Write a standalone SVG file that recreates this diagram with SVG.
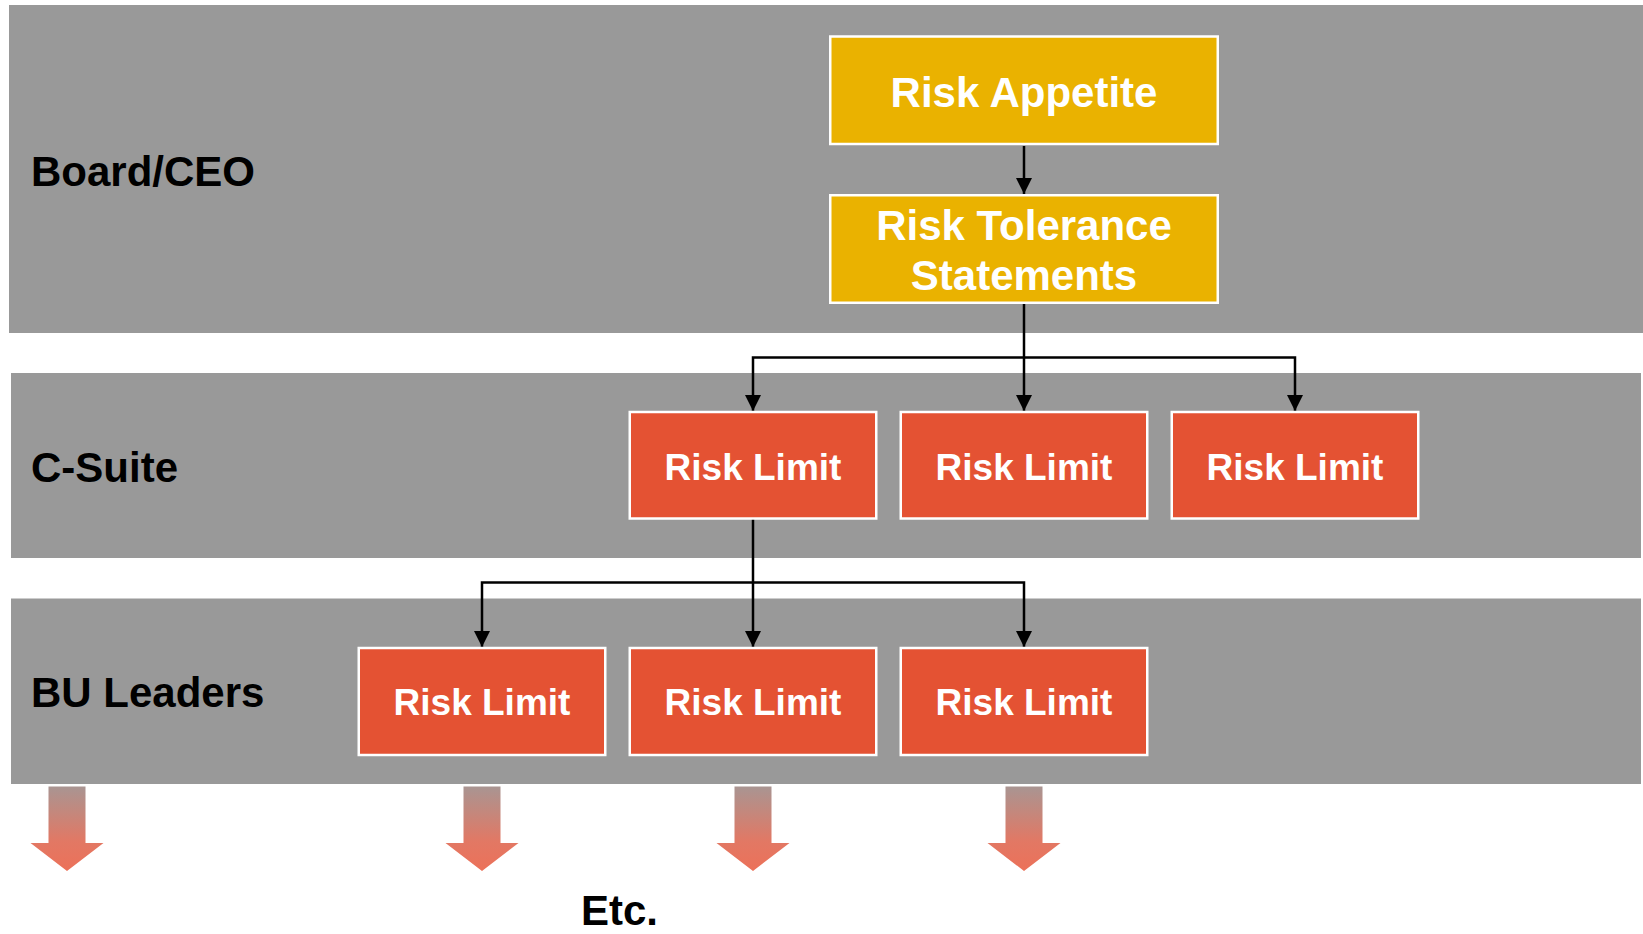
<svg xmlns="http://www.w3.org/2000/svg" width="1643" height="934" viewBox="0 0 1643 934">
  <style>
    .band { fill: #999999; }
    .label { font-family: "Liberation Sans", Arial, sans-serif; font-weight: bold; font-size: 42px; fill: #000000; }
    .gold { fill: #EAB200; stroke: #FFFFFF; stroke-width: 2.5; }
    .red { fill: #E45233; stroke: #FFFFFF; stroke-width: 2.5; }
    .boxtext { font-family: "Liberation Sans", Arial, sans-serif; font-weight: bold; fill: #FFFFFF; text-anchor: middle; }
    .big { font-size: 42px; }
    .small { font-size: 37px; }
    .conn { fill: none; stroke: #000000; stroke-width: 2.5; }
    .down { fill: url(#downGrad); }
  </style>
  <defs>
    <marker id="arrow" markerUnits="userSpaceOnUse" markerWidth="16" markerHeight="16" viewBox="0 0 16 16" refX="16" refY="8" orient="auto">
      <path d="M0,0 L16,8 L0,16 Z" fill="#000000"/>
    </marker>
    <linearGradient id="downGrad" x1="0" y1="0" x2="0" y2="1">
      <stop offset="0" stop-color="#A99592"/>
      <stop offset="0.65" stop-color="#E27864"/>
      <stop offset="1" stop-color="#EC7159"/>
    </linearGradient>
  </defs>

  <!-- Tier bands -->
  <g id="band-board">
    <rect class="band" x="9" y="5" width="1634" height="328"/>
    <text class="label" x="31" y="186">Board/CEO</text>
  </g>
  <g id="band-csuite">
    <rect class="band" x="11" y="373" width="1630" height="185"/>
    <text class="label" x="31" y="482">C-Suite</text>
  </g>
  <g id="band-bu">
    <rect class="band" x="11" y="598.5" width="1630" height="185.5"/>
    <text class="label" x="31" y="707">BU Leaders</text>
  </g>

  <!-- Connectors -->
  <g id="connectors">
    <line class="conn" x1="1024" y1="146" x2="1024" y2="194" marker-end="url(#arrow)"/>
    <line class="conn" x1="1024" y1="304" x2="1024" y2="411" marker-end="url(#arrow)"/>
    <polyline class="conn" points="1024,357.5 753,357.5 753,411" marker-end="url(#arrow)"/>
    <polyline class="conn" points="1024,357.5 1295,357.5 1295,411" marker-end="url(#arrow)"/>
    <line class="conn" x1="753" y1="519" x2="753" y2="647" marker-end="url(#arrow)"/>
    <polyline class="conn" points="753,582.5 482,582.5 482,647" marker-end="url(#arrow)"/>
    <polyline class="conn" points="753,582.5 1024,582.5 1024,647" marker-end="url(#arrow)"/>
  </g>

  <!-- Board level -->
  <g id="risk-appetite">
    <rect class="gold" x="830.25" y="36.5" width="387.5" height="107.5"/>
    <text class="boxtext big" x="1024" y="106.5">Risk Appetite</text>
  </g>
  <g id="risk-tolerance">
    <rect class="gold" x="830.25" y="195.25" width="387.5" height="107.5"/>
    <text class="boxtext big" x="1024" y="240">Risk Tolerance</text>
    <text class="boxtext big" x="1024" y="290">Statements</text>
  </g>

  <!-- C-Suite level -->
  <g id="csuite-limit-1">
    <rect class="red" x="629.75" y="412" width="246.5" height="106.5"/>
    <text class="boxtext small" x="753" y="479.5">Risk Limit</text>
  </g>
  <g id="csuite-limit-2">
    <rect class="red" x="900.75" y="412" width="246.5" height="106.5"/>
    <text class="boxtext small" x="1024" y="479.5">Risk Limit</text>
  </g>
  <g id="csuite-limit-3">
    <rect class="red" x="1171.75" y="412" width="246.5" height="106.5"/>
    <text class="boxtext small" x="1295" y="479.5">Risk Limit</text>
  </g>

  <!-- BU level -->
  <g id="bu-limit-1">
    <rect class="red" x="358.75" y="648" width="246.5" height="107"/>
    <text class="boxtext small" x="482" y="714.5">Risk Limit</text>
  </g>
  <g id="bu-limit-2">
    <rect class="red" x="629.75" y="648" width="246.5" height="107"/>
    <text class="boxtext small" x="753" y="714.5">Risk Limit</text>
  </g>
  <g id="bu-limit-3">
    <rect class="red" x="900.75" y="648" width="246.5" height="107"/>
    <text class="boxtext small" x="1024" y="714.5">Risk Limit</text>
  </g>

  <!-- Cascade arrows below the BU tier -->
  <g id="cascade">
    <path class="down" d="M48.5,786.5 H85.5 V843 H103.5 L67,871 L30.5,843 H48.5 Z"/>
    <path class="down" d="M463.5,786.5 H500.5 V843 H518.5 L482,871 L445.5,843 H463.5 Z"/>
    <path class="down" d="M734.5,786.5 H771.5 V843 H789.5 L753,871 L716.5,843 H734.5 Z"/>
    <path class="down" d="M1005.5,786.5 H1042.5 V843 H1060.5 L1024,871 L987.5,843 H1005.5 Z"/>
  </g>
  <g id="etc">
    <text class="label" x="581" y="925">Etc.</text>
  </g>
</svg>
